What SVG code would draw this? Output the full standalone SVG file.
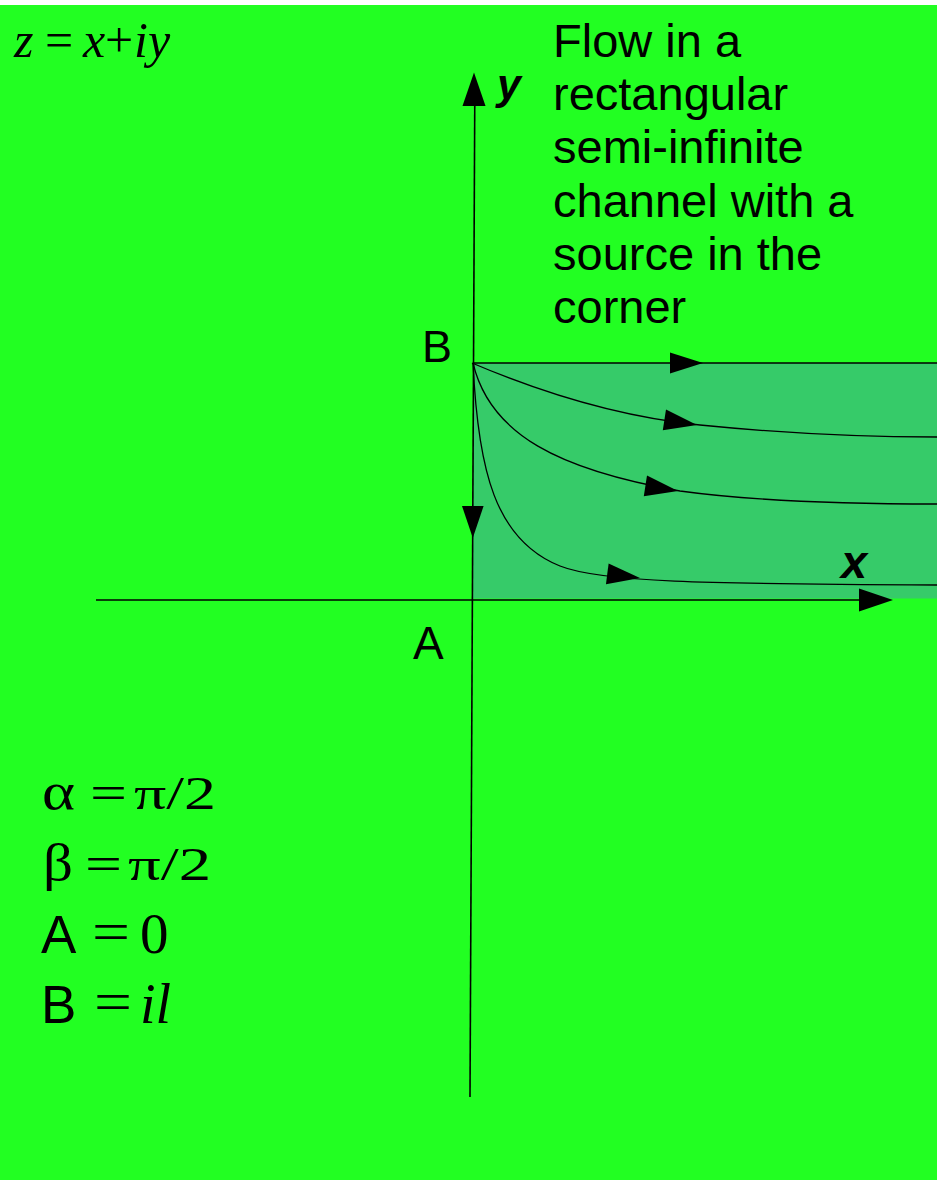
<svg xmlns="http://www.w3.org/2000/svg" width="937" height="1180" viewBox="0 0 937 1180">
<style>
.sans{font-family:"Liberation Sans",Arial,sans-serif;fill:#000}
.serif{font-family:"Liberation Serif","Times New Roman",serif;fill:#000}
.it{font-style:italic}
.ln{fill:none;stroke:#000;stroke-width:1.3}
.ax{fill:none;stroke:#000;stroke-width:1.6}
.ah{fill:#000;stroke:none}
</style>
<rect x="0" y="0" width="937" height="1180" fill="#ffffff"/>
<rect x="0" y="5" width="937" height="1175" fill="#22ff22"/>
<g id="channel">
<rect x="473" y="363" width="464" height="235.5" fill="#36cb69"/>
</g>
<g id="connectors">
<line class="ax" x1="96" y1="600" x2="870" y2="600"/>
<polygon class="ah" points="893,600 859,588.5 859,611.5"/>
<line class="ax" x1="474.8" y1="95" x2="470" y2="1097"/>
<polygon class="ah" points="474,72.5 462.5,106 485.5,106"/>
<line class="ln" x1="473" y1="363" x2="937" y2="363"/>
<polygon class="ah" points="703,363 670,352.5 670,373.5"/>
<polygon class="ah" points="472.8,538 462,506 483.6,506"/>
<path class="ln" d="M472,363 C540,392 620,417 700,425 C780,433 860,437 937,437"/>
<polygon class="ah" points="697,425 666,409.5 662.8,430.3"/>
<path class="ln" d="M473,363 C490,435 560,470 680,491 C760,502 860,504 937,504"/>
<polygon class="ah" points="678,491 647,475.5 643.8,496.3"/>
<path class="ln" d="M473,363 C478,470 495,540 560,566 C600,582 700,584 937,585"/>
<polygon class="ah" points="640,578 608.6,563.4 606,584.2"/>
</g>
<g id="label-z">
<text class="serif" font-size="50" y="57"><tspan class="it" x="14">z</tspan><tspan x="45">=</tspan><tspan class="it" x="83">x</tspan><tspan x="105">+</tspan><tspan class="it" x="134">iy</tspan></text>
</g>
<g id="title">
<text class="sans" font-size="47">
<tspan x="553" y="56.7">Flow in a</tspan>
<tspan x="553" y="110">rectangular</tspan>
<tspan x="553" y="163.3">semi-infinite</tspan>
<tspan x="553" y="216.7">channel with a</tspan>
<tspan x="553" y="270">source in the</tspan>
<tspan x="553" y="323.3">corner</tspan>
</text>
</g>
<g id="label-y"><text class="sans it" font-weight="bold" font-size="43" x="497" y="99">y</text></g>
<g id="label-x"><text class="sans it" font-weight="bold" font-size="47" x="841" y="578">x</text></g>
<g id="label-B"><text class="sans" font-size="45" x="422" y="362">B</text></g>
<g id="label-A"><text class="sans" font-size="46" x="413" y="659">A</text></g>
<g id="formulas">
<text class="serif" font-size="52" x="42" y="809" textLength="33" lengthAdjust="spacingAndGlyphs">α</text>
<text class="serif" font-size="48" x="90" y="809" textLength="37" lengthAdjust="spacingAndGlyphs">=</text>
<text class="serif" font-size="47" x="134" y="809" textLength="82" lengthAdjust="spacingAndGlyphs">π/2</text>
<text class="serif" font-size="52" x="43" y="880" textLength="30" lengthAdjust="spacingAndGlyphs">β</text>
<text class="serif" font-size="48" x="85" y="880" textLength="37" lengthAdjust="spacingAndGlyphs">=</text>
<text class="serif" font-size="47" x="128" y="880" textLength="83" lengthAdjust="spacingAndGlyphs">π/2</text>
<text class="sans" font-size="53" x="41" y="953">A</text>
<text class="serif" font-size="56" x="92" y="951" textLength="38" lengthAdjust="spacingAndGlyphs">=</text>
<text class="serif" font-size="57" x="140" y="953">0</text>
<text class="sans" font-size="53" x="41" y="1023">B</text>
<text class="serif" font-size="56" x="94" y="1021" textLength="38" lengthAdjust="spacingAndGlyphs">=</text>
<text class="serif it" font-size="56" x="140" y="1023">il</text>
</g>
</svg>
